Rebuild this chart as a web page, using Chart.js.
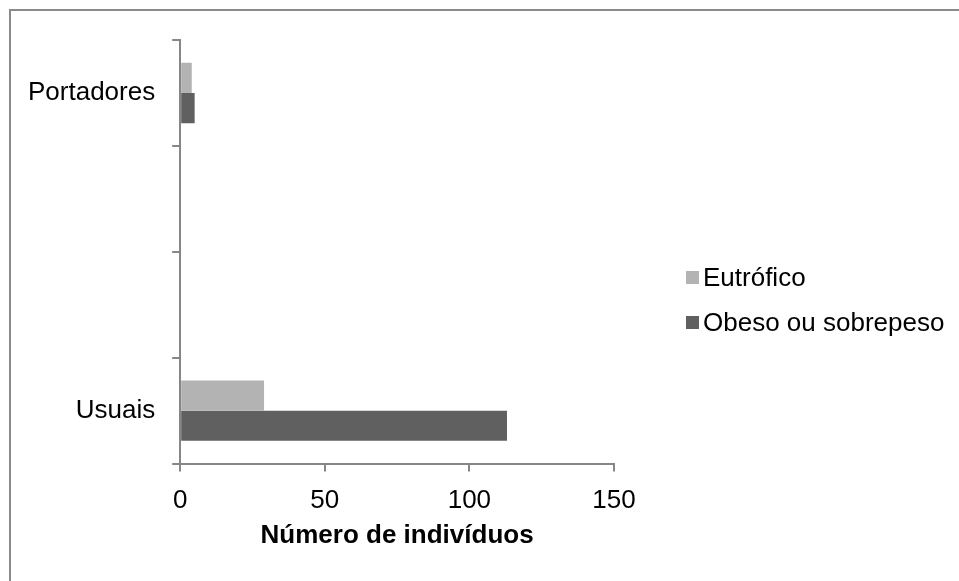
<!DOCTYPE html>
<html>
<head>
<meta charset="utf-8">
<title>Número de indivíduos</title>
<script src="https://cdn.jsdelivr.net/npm/chart.js@4/dist/chart.umd.min.js"></script>
<style>
  html, body { margin: 0; padding: 0; background: #fff; overflow: hidden; }
  #wrap { position: relative; width: 959px; height: 581px; }
  #frame {
    position: absolute; left: 9px; top: 9px; width: 1000px; height: 700px;
    border: 2px solid #8a8a8a; box-sizing: border-box;
  }
  #chart { position: absolute; left: 0; top: 0; }
  #legend {
    position: absolute; left: 686px; top: 260px;
    font-family: 'Liberation Sans', Arial, sans-serif; font-size: 26px; color: #000;
  }
  #legend .item { display: flex; align-items: center; height: 34px; margin-bottom: 11px; white-space: nowrap; }
  #legend .box { width: 13px; height: 13px; margin-right: 4px; }
</style>
</head>
<body>
<div id="wrap">
  <div id="frame"></div>
  <canvas id="chart" width="959" height="581"></canvas>
  <div id="legend"></div>
</div>
<script>
const categories = ['Portadores', '', '', 'Usuais'];
const eutrofico = [4, null, null, 29];
const obesoSobrepeso = [5, null, null, 113];
const xTicks = [0, 50, 100, 150];

const font = "'Liberation Sans', Arial, sans-serif";
const axisGrey = '#868686';

const chart = new Chart(document.getElementById('chart'), {
  type: 'bar',
  data: {
    labels: categories,
    datasets: [
      {
        label: 'Eutrófico',
        data: eutrofico,
        backgroundColor: '#b3b3b3',
        categoryPercentage: 0.57,
        barPercentage: 1,
      },
      {
        label: 'Obeso ou sobrepeso',
        data: obesoSobrepeso,
        backgroundColor: '#606060',
        categoryPercentage: 0.57,
        barPercentage: 1,
      },
    ],
  },
  options: {
    indexAxis: 'y',
    responsive: false,
    animation: false,
    layout: {
      padding: { left: 11, top: 40, right: 345, bottom: 28 },
    },
    plugins: {
      legend: { display: false },
      tooltip: { enabled: false },
    },
    scales: {
      x: {
        min: 0,
        max: 150,
        afterBuildTicks(scale) {
          scale.ticks = xTicks.map((v) => ({ value: v }));
        },
        grid: {
          drawOnChartArea: false,
          color: axisGrey,
          lineWidth: 2,
          tickLength: 8,
        },
        border: { color: axisGrey, width: 2 },
        ticks: {
          color: '#000',
          padding: 14,
          font: { family: font, size: 26 },
        },
        title: {
          display: true,
          text: 'Número de indivíduos',
          color: '#000',
          padding: { top: -11, bottom: 2 },
          font: { family: font, size: 26, weight: 'bold' },
        },
      },
      y: {
        grid: {
          drawOnChartArea: false,
          color: axisGrey,
          lineWidth: 2,
          tickLength: 8,
        },
        border: { color: axisGrey, width: 2 },
        ticks: {
          color: '#000',
          padding: 17,
          font: { family: font, size: 26 },
        },
      },
    },
  },
});

// legend on the right, built from the datasets
const legendEl = document.getElementById('legend');
chart.data.datasets.forEach((ds) => {
  const item = document.createElement('div');
  item.className = 'item';
  const box = document.createElement('span');
  box.className = 'box';
  box.style.background = ds.backgroundColor;
  const txt = document.createElement('span');
  txt.textContent = ds.label;
  item.appendChild(box);
  item.appendChild(txt);
  legendEl.appendChild(item);
});
</script>
</body>
</html>
